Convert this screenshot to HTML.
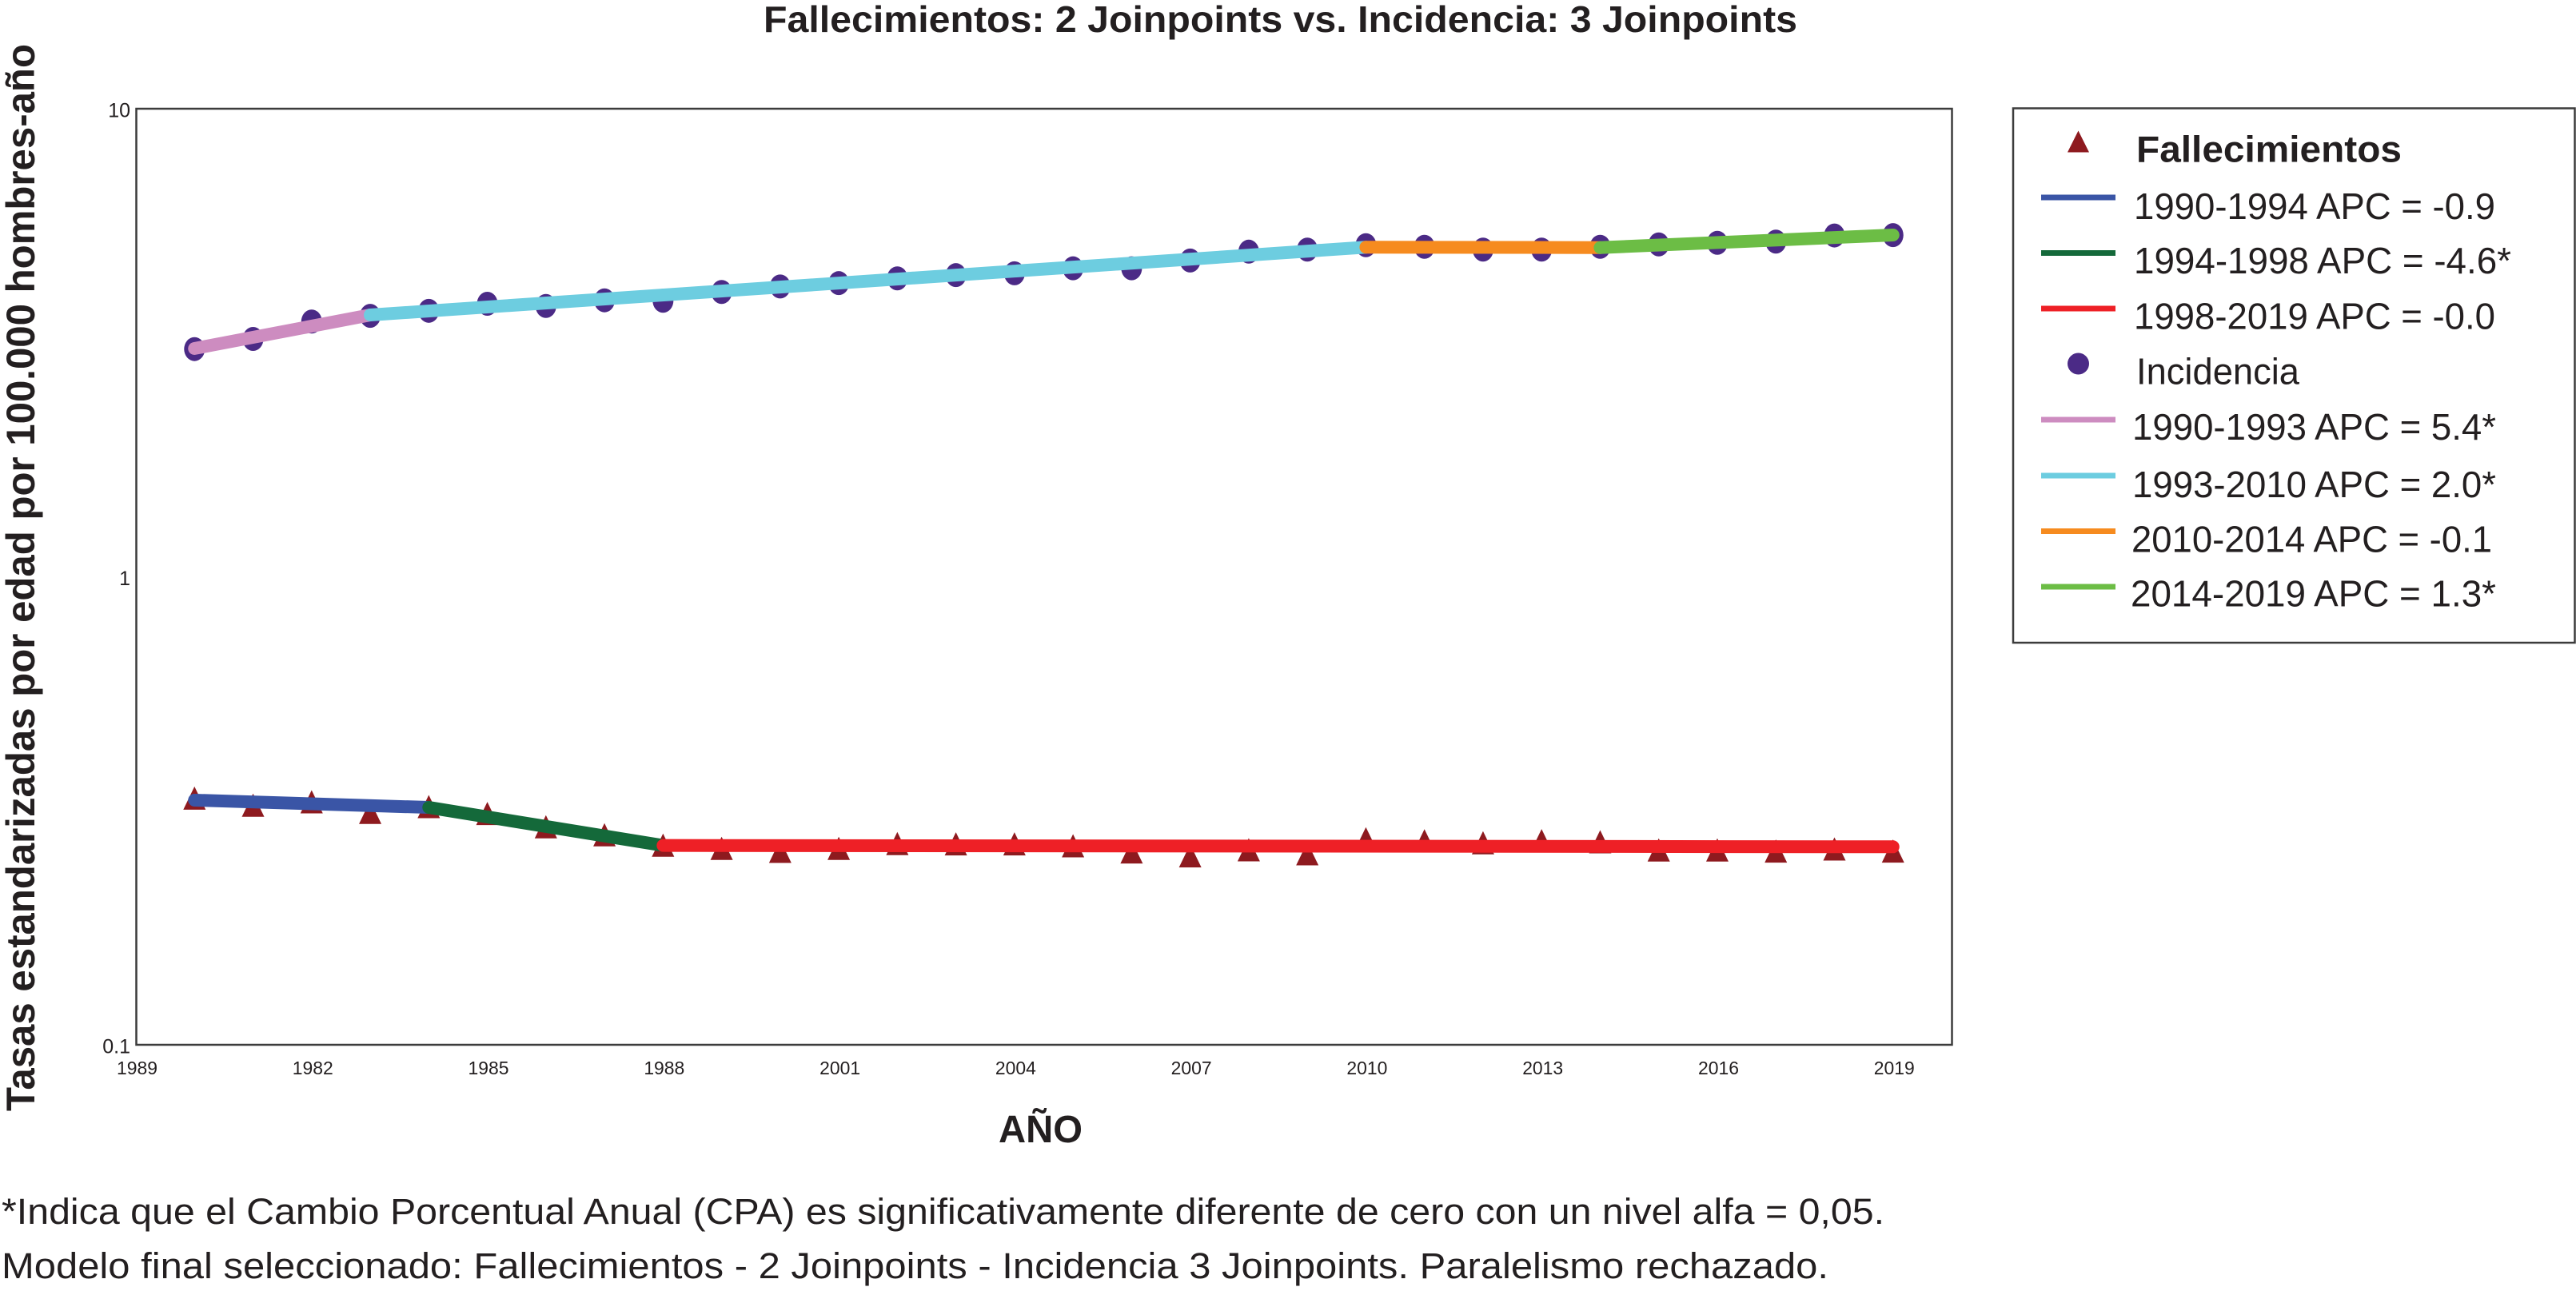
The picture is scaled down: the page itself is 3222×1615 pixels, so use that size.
<!DOCTYPE html>
<html lang="es">
<head>
<meta charset="utf-8">
<title>Fallecimientos: 2 Joinpoints vs. Incidencia: 3 Joinpoints</title>
<style>
  html, body { margin: 0; padding: 0; background: #fff; }
  svg { display: block; }
  text { font-family: "Liberation Sans", Arial, sans-serif; fill: #231f20; }
  .frame { fill: none; stroke: #3c3c3c; stroke-width: 2.5; }
  .seg { fill: none; stroke-width: 16; stroke-linecap: round; }
  .key { fill: none; stroke-width: 7; }
  .c-blue { stroke: #3a55a6; } .c-dgreen { stroke: #14693a; } .c-red { stroke: #ee2026; }
  .c-pink { stroke: #cd8cc0; } .c-cyan { stroke: #6dcde0; } .c-orange { stroke: #f68b1f; } .c-green { stroke: #6cbd45; }
  .tri { fill: #8e1a1f; }
  .dot { fill: #4b2a86; }
  .ytick { font-size: 25px; }
  .xtick { font-size: 23px; }
  .leg { font-size: 46px; }
  .note { font-size: 45px; }
  .bold { font-weight: bold; }
</style>
</head>
<body>
<svg id="chart" xmlns="http://www.w3.org/2000/svg" width="3222" height="1615" viewBox="0 0 3222 1615">
  <rect x="0" y="0" width="3222" height="1615" fill="#ffffff"/>
  <text class="bold" x="955" y="40" font-size="46" textLength="1293" lengthAdjust="spacingAndGlyphs">Fallecimientos: 2 Joinpoints vs. Incidencia: 3 Joinpoints</text>
  <text class="bold" transform="translate(43 1390) rotate(-90)" font-size="50" textLength="1335" lengthAdjust="spacingAndGlyphs">Tasas estandarizadas por edad por 100.000 hombres-año</text>
  <text class="bold" x="1249" y="1429" font-size="48" textLength="105" lengthAdjust="spacingAndGlyphs">AÑO</text>
  <rect class="frame" x="170.5" y="136" width="2271" height="1171"/>
  <g id="y-ticks"></g>
  <g id="x-ticks"></g>
  <g id="death-points"></g>
  <g id="incidence-points"></g>
  <g id="death-lines"></g>
  <g id="incidence-lines"></g>

  <g>
    <rect class="frame" x="2518" y="135.5" width="702.5" height="668.5"/>
    <polygon class="tri" points="2599.5,163.5 2613,190.5 2586,190.5"/>
    <text class="leg bold" x="2672" y="202.5" textLength="332" lengthAdjust="spacingAndGlyphs">Fallecimientos</text>
    <line class="key c-blue" x1="2553" x2="2646" y1="247" y2="247"/>
    <text class="leg" x="2669" y="274" textLength="452" lengthAdjust="spacingAndGlyphs">1990-1994 APC = -0.9</text>
    <line class="key c-dgreen" x1="2553" x2="2646" y1="316.5" y2="316.5"/>
    <text class="leg" x="2669" y="342" textLength="472" lengthAdjust="spacingAndGlyphs">1994-1998 APC = -4.6*</text>
    <line class="key c-red" x1="2553" x2="2646" y1="386" y2="386"/>
    <text class="leg" x="2669" y="411.5" textLength="452" lengthAdjust="spacingAndGlyphs">1998-2019 APC = -0.0</text>
    <circle class="dot" cx="2599.5" cy="455" r="13.5"/>
    <text class="leg" x="2672" y="480.5" textLength="204" lengthAdjust="spacingAndGlyphs">Incidencia</text>
    <line class="key c-pink" x1="2553" x2="2646" y1="525" y2="525"/>
    <text class="leg" x="2667" y="550" textLength="455" lengthAdjust="spacingAndGlyphs">1990-1993 APC = 5.4*</text>
    <line class="key c-cyan" x1="2553" x2="2646" y1="595" y2="595"/>
    <text class="leg" x="2667" y="622" textLength="455" lengthAdjust="spacingAndGlyphs">1993-2010 APC = 2.0*</text>
    <line class="key c-orange" x1="2553" x2="2646" y1="664.5" y2="664.5"/>
    <text class="leg" x="2666" y="690.5" textLength="451" lengthAdjust="spacingAndGlyphs">2010-2014 APC = -0.1</text>
    <line class="key c-green" x1="2553" x2="2646" y1="734" y2="734"/>
    <text class="leg" x="2665" y="758.5" textLength="457" lengthAdjust="spacingAndGlyphs">2014-2019 APC = 1.3*</text>
  </g>

  <text class="note" x="2" y="1531" textLength="2355" lengthAdjust="spacingAndGlyphs">*Indica que el Cambio Porcentual Anual (CPA) es significativamente diferente de cero con un nivel alfa = 0,05.</text>
  <text class="note" x="2" y="1599" textLength="2285" lengthAdjust="spacingAndGlyphs">Modelo final seleccionado: Fallecimientos - 2 Joinpoints - Incidencia 3 Joinpoints. Paralelismo rechazado.</text>
</svg>

<script>
const years = [1990,1991,1992,1993,1994,1995,1996,1997,1998,1999,2000,2001,2002,2003,2004,2005,2006,2007,2008,2009,2010,2011,2012,2013,2014,2015,2016,2017,2018,2019];
const deathRates = [0.3366,0.3250,0.3306,0.3138,0.3228,0.3120,0.2923,0.2810,0.2670,0.2628,0.2590,0.2628,0.2691,0.2687,0.2687,0.2663,0.2583,0.2533,0.2610,0.2560,0.2755,0.2729,0.2702,0.2730,0.2715,0.2608,0.2608,0.2594,0.2621,0.2594];
const incidenceRates = [3.065,3.222,3.51,3.61,3.70,3.83,3.79,3.896,3.887,4.06,4.17,4.24,4.34,4.41,4.45,4.56,4.56,4.74,4.95,5.00,5.11,5.07,5.00,5.00,5.07,5.13,5.17,5.20,5.36,5.37];
const deathJoinYears = [1990,1994,1998,2019];
const deathJoinFits = [0.3332,0.3215,0.2666,0.2649];
const incidenceJoinYears = [1990,1993,2010,2014,2019];
const incidenceJoinFits = [3.074,3.625,5.06,5.05,5.372];
const xTickYears = [1989,1992,1995,1998,2001,2004,2007,2010,2013,2016,2019];
const xTickLabels = ['1989','1982','1985','1988','2001','2004','2007','2010','2013','2016','2019'];
const yTickValues = [10,1,0.1];
const yTickLabels = ['10','1','0.1'];

const NS = 'http://www.w3.org/2000/svg';
const plot = { left: 170, right: 2441, top: 136, bottom: 1307 };
const xMin = 1989, xMax = 2020, yMinLog = -1, yMaxLog = 1;
function xScale(year) {
  return plot.left + (year - xMin) / (xMax - xMin) * (plot.right - plot.left);
}
function yScale(rate) {
  return plot.top + (yMaxLog - Math.log10(rate)) / (yMaxLog - yMinLog) * (plot.bottom - plot.top);
}
function make(tag, parentId, attrs) {
  const el = document.createElementNS(NS, tag);
  for (const k in attrs) el.setAttribute(k, attrs[k]);
  document.getElementById(parentId).appendChild(el);
  return el;
}

yTickValues.forEach(function (v, i) {
  const t = make('text', 'y-ticks', { class: 'ytick', x: 163, y: yScale(v) + 10.5, 'text-anchor': 'end' });
  t.textContent = yTickLabels[i];
  
  
});
xTickYears.forEach(function (yr, i) {
  const t = make('text', 'x-ticks', { class: 'xtick', x: xScale(yr) + 1.5, y: 1344, 'text-anchor': 'middle', textLength: 51, lengthAdjust: 'spacingAndGlyphs' });
  t.textContent = xTickLabels[i];
  
  
});
years.forEach(function (yr, i) {
  const cx = xScale(yr), cy = yScale(deathRates[i]);
  const p = make('polygon', 'death-points', { class: 'tri', points: cx + ',' + (cy - 14.5) + ' ' + (cx + 14) + ',' + (cy + 14.5) + ' ' + (cx - 14) + ',' + (cy + 14.5) });
  
  
});
years.forEach(function (yr, i) {
  const c = make('ellipse', 'incidence-points', { class: 'dot', cx: xScale(yr), cy: yScale(incidenceRates[i]), rx: 13, ry: 15 });
  
  
});
const deathClasses = ['c-blue', 'c-dgreen', 'c-red'];
for (let i = 0; i < deathJoinYears.length - 1; i++) {
  const l = make('line', 'death-lines', { class: 'seg ' + deathClasses[i],
    x1: xScale(deathJoinYears[i]), y1: yScale(deathJoinFits[i]),
    x2: xScale(deathJoinYears[i + 1]), y2: yScale(deathJoinFits[i + 1]) });
  
  
}
const incidenceClasses = ['c-pink', 'c-cyan', 'c-orange', 'c-green'];
for (let i = 0; i < incidenceJoinYears.length - 1; i++) {
  const l = make('line', 'incidence-lines', { class: 'seg ' + incidenceClasses[i],
    x1: xScale(incidenceJoinYears[i]), y1: yScale(incidenceJoinFits[i]),
    x2: xScale(incidenceJoinYears[i + 1]), y2: yScale(incidenceJoinFits[i + 1]) });
  
  
}
</script>
</body>
</html>
